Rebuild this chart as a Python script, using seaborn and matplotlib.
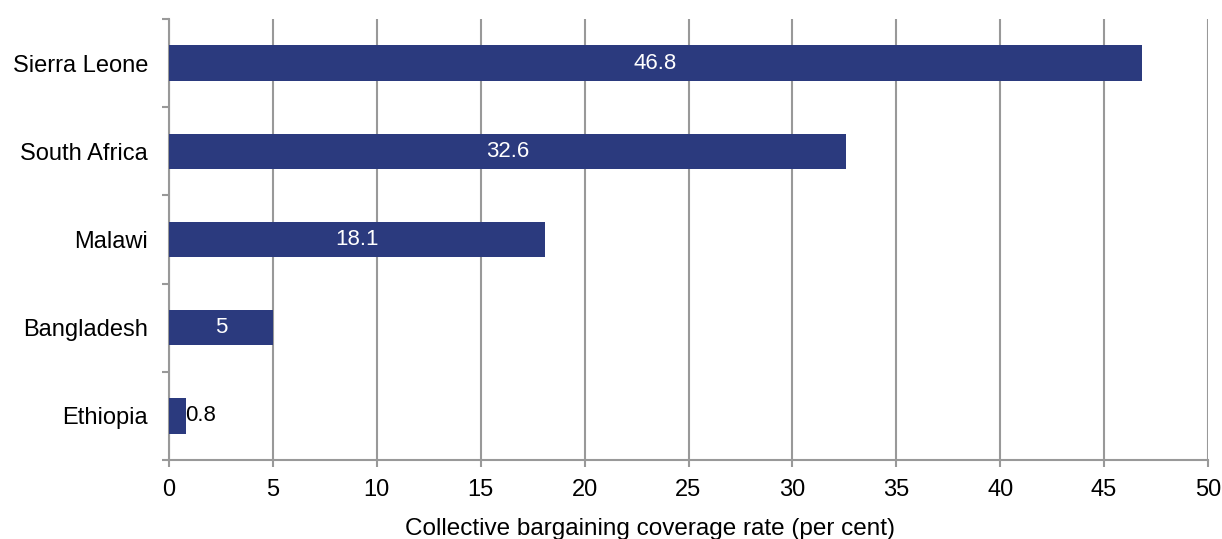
import numpy as np
import pandas as pd
import matplotlib
matplotlib.use("Agg")
import matplotlib.pyplot as plt
import seaborn as sns

countries = ["Sierra Leone", "South Africa", "Malawi", "Bangladesh", "Ethiopia"]
coverage = [46.8, 32.6, 18.1, 5, 0.8]
value_labels = ["46.8", "32.6", "18.1", "5", "0.8"]

df = pd.DataFrame({"country": countries, "coverage": coverage})

sns.set_style("white")
plt.rcParams['font.family'] = ['Liberation Sans', 'DejaVu Sans']

fig = plt.figure(figsize=(12.22, 5.39), dpi=100)
ax = fig.add_axes([169 / 1222, 1 - 460 / 539, (1208 - 169) / 1222, (460 - 19) / 539])

bar_color = "#2B3A7E"
sns.barplot(data=df, x="coverage", y="country", orient="h", color=bar_color,
            width=0.4, saturation=1, linewidth=0, ax=ax, zorder=3)

ax.set_xlim(0, 50)
ax.set_ylim(len(countries) - 0.5, -0.5)
ax.set_xticks(np.arange(0, 55, 5))
ax.grid(axis="x", color="#999999", linewidth=1.5, zorder=0)
ax.grid(axis="y", visible=False)

for s in ["top", "right"]:
    ax.spines[s].set_visible(False)
for s in ["left", "bottom"]:
    ax.spines[s].set_color("#999999")
    ax.spines[s].set_linewidth(1.5)

# ticks between categories on y axis
ax.set_yticks(np.arange(-0.5, len(countries), 1), minor=True)
ax.tick_params(axis="y", which="major", length=0, pad=15, labelsize=17, labelcolor="black")
ax.tick_params(axis="y", which="minor", length=5, width=1.5, color="#999999", direction="out", left=True)
ax.tick_params(axis="x", which="major", length=5, width=1.5, color="#999999", direction="out",
               bottom=True, pad=9, labelsize=17, labelcolor="black")

ax.set_ylabel("")
ax.set_xlabel("Collective bargaining coverage rate (per cent)", fontsize=17.5, labelpad=12, color="black")
ax.xaxis.label.set_x(0.463)

for i, (v, lab) in enumerate(zip(coverage, value_labels)):
    if v > 3:
        ax.text(v / 2, i, lab, color="white", ha="center", va="center", fontsize=16, zorder=4)
    else:
        ax.text(v, i, lab, color="black", ha="left", va="center", fontsize=16, zorder=4)

fig.savefig("out.png", dpi=100)
